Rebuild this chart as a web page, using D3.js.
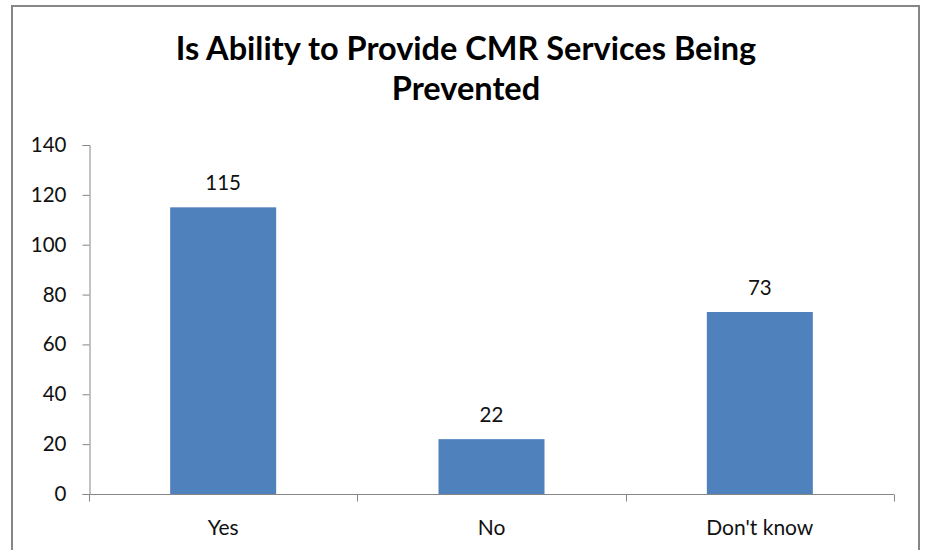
<!DOCTYPE html>
<html><head><meta charset="utf-8">
<script src="https://cdn.jsdelivr.net/npm/d3@7"></script>
<style>body{margin:0;background:#fff}svg{display:block}</style>
</head><body><svg id="c" width="926" height="550"></svg>
<script>
const categories = ["Yes", "No", "Don't know"];
const values = [115, 22, 73];
const yTicks = [0, 20, 40, 60, 80, 100, 120, 140];
const titleLines = ["Is Ability to Provide CMR Services Being", "Prevented"];

const svg = d3.select("#c");
const font = "Lato, 'Open Sans', sans-serif";
// chart border
svg.append("rect").attr("x", 12).attr("y", 6).attr("width", 907).attr("height", 560)
  .attr("fill", "#fff").attr("stroke", "#868686").attr("stroke-width", 2);

const x = d3.scaleBand().domain(categories).range([89, 894]).paddingInner(0.605).paddingOuter(0.3025);
const y = d3.scaleLinear().domain([0, 140]).range([494, 145]);

svg.selectAll(".bar").data(values).join("rect")
  .attr("x", (d, i) => x(categories[i])).attr("width", x.bandwidth())
  .attr("y", d => y(d)).attr("height", d => y(0) - y(d)).attr("fill", "#4F81BD");

const yAxis = svg.append("g").attr("transform", "translate(89.5,0)")
  .call(d3.axisLeft(y).tickValues(yTicks).tickSize(7).tickPadding(16));
yAxis.select(".domain").attr("stroke", "#868686");
yAxis.selectAll(".tick line").attr("stroke", "#868686");
yAxis.selectAll("text").attr("font-family", font).attr("font-size", 20.5).attr("fill", "#111");

// x axis with boundary ticks
const xb = d3.scaleLinear().domain([0, 3]).range([89, 894]);
const xAxis = svg.append("g").attr("transform", "translate(0,494.5)");
xAxis.append("line").attr("x1", 89).attr("x2", 894).attr("stroke", "#868686");
xAxis.selectAll(".bt").data(d3.range(4)).join("line")
  .attr("x1", d => Math.round(xb(d)) + 0.5).attr("x2", d => Math.round(xb(d)) + 0.5)
  .attr("y1", 0).attr("y2", 7).attr("stroke", "#868686");
xAxis.selectAll(".cl").data(categories).join("text")
  .attr("x", d => x(d) + x.bandwidth() / 2).attr("y", 40).attr("text-anchor", "middle")
  .attr("font-family", font).attr("font-size", 21).attr("fill", "#111").text(d => d);

svg.selectAll(".vl").data(values).join("text")
  .attr("x", (d, i) => x(categories[i]) + x.bandwidth() / 2).attr("y", d => y(d) - 17)
  .attr("text-anchor", "middle").attr("font-family", font).attr("font-size", 20.5).attr("fill", "#111")
  .text(d => d);

svg.selectAll(".tt").data(titleLines).join("text")
  .attr("x", 466).attr("y", (d, i) => 60 + i * 40).attr("text-anchor", "middle")
  .attr("font-family", font).attr("font-weight", "bold").attr("font-size", 32.5).attr("fill", "#000")
  .text(d => d);
</script></body></html>
